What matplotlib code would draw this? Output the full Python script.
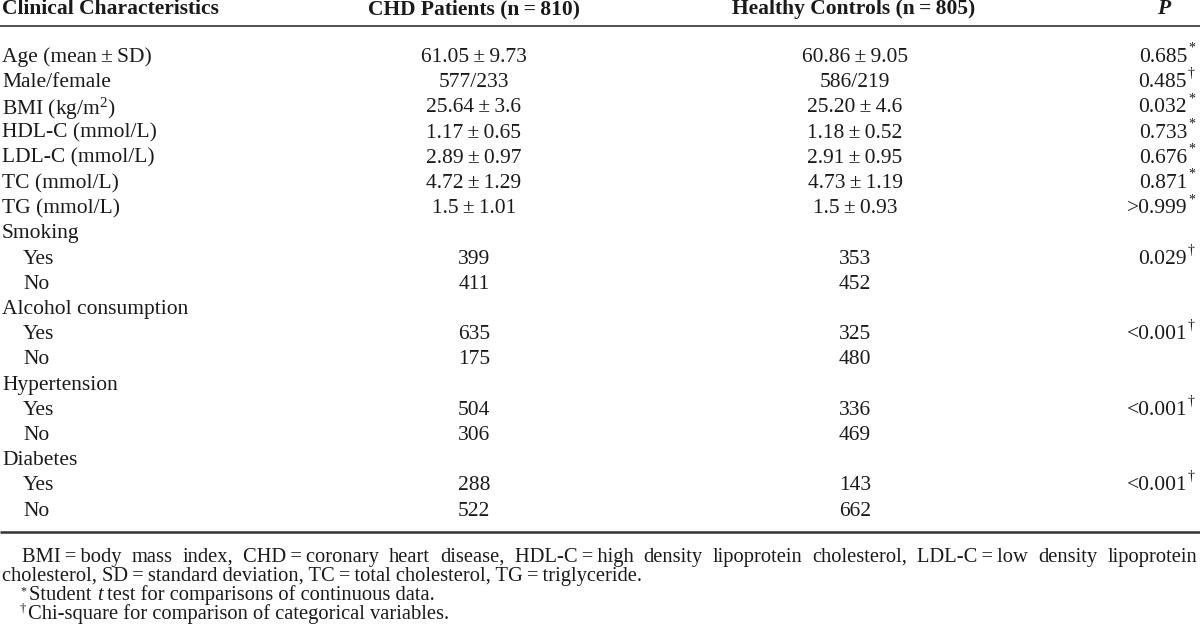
import matplotlib
matplotlib.use("Agg")
import matplotlib.pyplot as plt

plt.rcParams['font.family'] = ['Liberation Serif', 'DejaVu Serif']
plt.rcParams['mathtext.fontset'] = 'custom'
plt.rcParams['mathtext.rm'] = 'Liberation Serif'
plt.rcParams['mathtext.it'] = 'Liberation Serif:italic'
plt.rcParams['mathtext.bf'] = 'Liberation Serif:bold'

TS = '\u2009'  # thin space

# table content
headers = ["Clinical Characteristics", "CHD Patients (n" + TS + "=" + TS + "810)",
           "Healthy Controls (n" + TS + "=" + TS + "805)", "P"]
labels = ["Age (mean" + TS + "\u00b1" + TS + "SD)", "Male/female", "BMI (kg/m$^2$)",
          "HDL-C (mmol/L)", "LDL-C (mmol/L)", "TC (mmol/L)", "TG (mmol/L)",
          "Smoking", "Yes", "No",
          "Alcohol consumption", "Yes", "No",
          "Hypertension", "Yes", "No",
          "Diabetes", "Yes", "No"]
sub_row = [0, 0, 0, 0, 0, 0, 0, 0, 1, 1, 0, 1, 1, 0, 1, 1, 0, 1, 1]
pm = TS + "\u00b1" + TS
chd = ["61.05" + pm + "9.73", "577/233", "25.64" + pm + "3.6", "1.17" + pm + "0.65",
       "2.89" + pm + "0.97", "4.72" + pm + "1.29", "1.5" + pm + "1.01",
       "", "399", "411", "", "635", "175", "", "504", "306", "", "288", "522"]
healthy = ["60.86" + pm + "9.05", "586/219", "25.20" + pm + "4.6", "1.18" + pm + "0.52",
           "2.91" + pm + "0.95", "4.73" + pm + "1.19", "1.5" + pm + "0.93",
           "", "353", "452", "", "325", "480", "", "336", "469", "", "143", "662"]
p_vals = ["0.685", "0.485", "0.032", "0.733", "0.676", "0.871", ">0.999",
          "", "0.029", "", "", "<0.001", "", "", "<0.001", "", "", "<0.001", ""]
p_mark = ["*", "\u2020", "*", "*", "*", "*", "*",
          "", "\u2020", "", "", "\u2020", "", "", "\u2020", "", "", "\u2020", ""]

notes1 = ("BMI" + TS + "=" + TS + "body mass index, CHD" + TS + "=" + TS + "coronary heart disease, "
          "HDL-C" + TS + "=" + TS + "high density lipoprotein cholesterol, "
          "LDL-C" + TS + "=" + TS + "low density lipoprotein")
notes2 = ("cholesterol, SD" + TS + "=" + TS + "standard deviation, TC" + TS + "=" + TS
          + "total cholesterol, TG" + TS + "=" + TS + "triglyceride.")
notes3 = ["Student ", "t", " test for comparisons of continuous data."]
notes4 = "Chi-square for comparison of categorical variables."

fig = plt.figure(figsize=(12, 6.32), dpi=100)
ax = fig.add_axes([0, 0, 1, 1])
ax.set_xlim(0, 1200)
ax.set_ylim(632, 0)
ax.axis('off')

fs = 15.5
fn = 14.8
col = '#1a1a1a'

# header
ax.text(2, 9, headers[0], fontsize=fs, fontweight='bold', ha='left', va='center', color=col)
ax.text(474, 9, headers[1], fontsize=fs, fontweight='bold', ha='center', va='center', color=col)
ax.text(854, 9, headers[2], fontsize=fs, fontweight='bold', ha='center', va='center', color=col)
ax.text(1164, 9, headers[3], fontsize=fs, fontweight='bold', style='italic', ha='center', va='center', color=col)
ax.plot([0, 1200], [25.5, 25.5], color='#333333', lw=1.2, solid_capstyle='butt')

y0, dy = 55, 25.2
for i in range(len(labels)):
    y = y0 + i * dy
    ax.text(2 + 21 * sub_row[i], y, labels[i], fontsize=fs, ha='left', va='center_baseline', color=col)
    ax.text(474, y, chd[i], fontsize=fs, ha='center', va='center_baseline', color=col)
    ax.text(855, y, healthy[i], fontsize=fs, ha='center', va='center_baseline', color=col)
    if p_vals[i]:
        ax.text(1187, y, p_vals[i], fontsize=fs, ha='right', va='center_baseline', color=col)
        ax.text(1188, y - 8, p_mark[i], fontsize=10, ha='left', va='center_baseline', color=col)

ax.plot([0, 1200], [532, 532], color='#333333', lw=1.8, solid_capstyle='butt')

# footnotes: first line justified
fig.canvas.draw()
rend = fig.canvas.get_renderer()


def text_w(s, **kw):
    t = ax.text(0, 0, s, fontsize=fn, **kw)
    w = t.get_window_extent(rend).width
    t.remove()
    return w


words = notes1.split(' ')
tw = [text_w(w) for w in words]
x_start, x_end = 22, 1197
gap = (x_end - x_start - sum(tw)) / (len(words) - 1)
x = x_start
for w, wd in zip(words, tw):
    ax.text(x, 555, w, fontsize=fn, ha='left', va='center_baseline', color=col)
    x += wd + gap
ax.text(2, 574, notes2, fontsize=fn, ha='left', va='center_baseline', color=col)

ax.text(20, 590, "*", fontsize=8.5, ha='left', va='center_baseline', color=col)
x = 29
for k, part in enumerate(notes3):
    st = 'italic' if k == 1 else 'normal'
    ax.text(x, 593, part, fontsize=fn, style=st, ha='left', va='center_baseline', color=col)
    x += text_w(part, style=st)

ax.text(20, 607, "\u2020", fontsize=9, ha='left', va='center_baseline', color=col)
ax.text(28, 612, notes4, fontsize=fn, ha='left', va='center_baseline', color=col)

fig.savefig("out.png", dpi=100)
